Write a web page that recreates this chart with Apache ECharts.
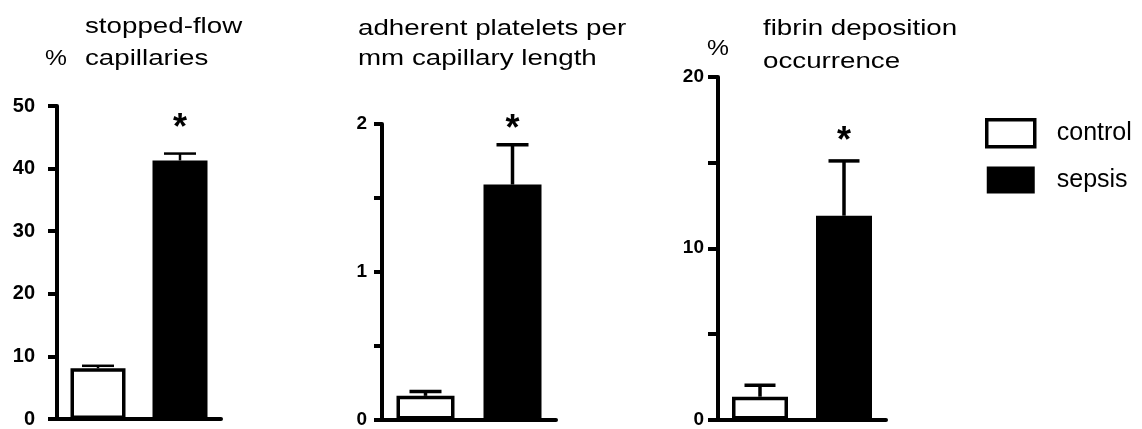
<!DOCTYPE html>
<html>
<head>
<meta charset="utf-8">
<script src="https://cdn.jsdelivr.net/npm/echarts@6/dist/echarts.min.js"></script>
<style>
html,body{margin:0;padding:0;background:#fff;}
#chart{width:1142px;height:429px;}
</style>
</head>
<body>
<div id="chart"></div>
<script>
// ---- data ----
const categories = ['control', 'sepsis'];
const flowMean = [8.1, 41.3];        // % stopped-flow capillaries
const flowErr = [0.4, 1.1];
const plateletMean = [0.16, 1.59];   // adherent platelets per mm
const plateletErr = [0.03, 0.27];
const fibrinMean = [1.33, 11.9];     // % fibrin deposition occurrence
const fibrinErr = [0.67, 3.2];
const sigMarkY = [46.3, 1.96, 16.2]; // where the * sits above the sepsis bar
const yMax = [50, 2, 20];
const yStep = [10, 0.5, 5];
const yLabelStep = [10, 1, 10];
const titleLines = [
  ['stopped-flow', 'capillaries'],
  ['adherent platelets per', 'mm capillary length'],
  ['fibrin deposition', 'occurrence']
];

const means = [flowMean, plateletMean, fibrinMean];
const errs = [flowErr, plateletErr, fibrinErr];

const FONT = "'Liberation Sans', Arial, sans-serif";
const layout = [
  {left: 57, top: 106, width: 164, height: 316, barW: 55, tick: 9, margin: 22, lab: 20, eb: 2.5, cap: 32},
  {left: 382, top: 124, width: 174, height: 299, barW: 58, tick: 8, margin: 15, lab: 19, eb: 3.5, cap: 32},
  {left: 718, top: 77, width: 168, height: 346, barW: 56, tick: 10, margin: 14, lab: 19, eb: 3.5, cap: 31}
];

const grid = [], xAxis = [], yAxis = [], series = [];
layout.forEach((L, i) => {
  grid.push({left: L.left, top: L.top, width: L.width, height: L.height});
  xAxis.push({
    type: 'category', gridIndex: i, data: categories,
    axisLine: {lineStyle: {color: '#000', width: 4}},
    axisTick: {show: false}, axisLabel: {show: false}
  });
  yAxis.push({
    type: 'value', gridIndex: i, min: 0, max: yMax[i], interval: yStep[i],
    splitLine: {show: false},
    axisLine: {show: true, lineStyle: {color: '#000', width: 4}},
    axisTick: {show: true, length: L.tick, lineStyle: {color: '#000', width: 4}},
    axisLabel: {
      margin: L.margin, color: '#000', fontWeight: 'bold', fontSize: L.lab, fontFamily: FONT,
      formatter: v => (Math.abs(v / yLabelStep[i] - Math.round(v / yLabelStep[i])) < 1e-9 ? String(v) : '')
    }
  });
  const m = means[i], e = errs[i];
  series.push({
    name: 'control', type: 'bar', xAxisIndex: i, yAxisIndex: i,
    data: [m[0], '-'], barWidth: L.barW, barGap: '-100%',
    itemStyle: {color: '#fff', borderColor: '#000', borderWidth: 3.5}
  });
  series.push({
    name: 'sepsis', type: 'bar', xAxisIndex: i, yAxisIndex: i,
    data: ['-', m[1]], barWidth: L.barW, barGap: '-100%',
    itemStyle: {color: '#000', borderColor: '#000', borderWidth: 3}
  });
  series.push({
    type: 'custom', xAxisIndex: i, yAxisIndex: i, z: 5,
    data: categories.map((c, k) => [k, m[k], m[k] + e[k]]),
    renderItem: (params, api) => {
      const base = api.coord([api.value(0), api.value(1)]);
      const top = api.coord([api.value(0), api.value(2)]);
      const st = {stroke: '#000', lineWidth: L.eb};
      return {type: 'group', children: [
        {type: 'line', shape: {x1: base[0], y1: base[1], x2: top[0], y2: top[1]}, style: st},
        {type: 'line', shape: {x1: top[0] - L.cap / 2, y1: top[1], x2: top[0] + L.cap / 2, y2: top[1]}, style: st}
      ]};
    }
  });
  series.push({
    type: 'custom', xAxisIndex: i, yAxisIndex: i, z: 6, silent: true,
    data: [[1, sigMarkY[i]]],
    renderItem: (params, api) => {
      const p = api.coord([api.value(0), api.value(1)]);
      return {type: 'text', x: p[0], y: p[1],
        style: {text: '*', font: 'bold 36px ' + FONT, fill: '#000', align: 'center', verticalAlign: 'middle'}};
    }
  });
});

// titles & unit marks
const TS = 1.26;
const graphic = [];
const titlePos = [
  {x: 85, y: [27, 59]},
  {x: 358, y: [29, 58.5]},
  {x: 763, y: [29, 62]}
];
titlePos.forEach((p, i) => {
  titleLines[i].forEach((t, k) => {
    graphic.push({type: 'text', x: p.x, y: p.y[k], scaleX: TS,
      style: {text: t, font: '22px ' + FONT, fill: '#000', verticalAlign: 'middle', align: 'left'}});
  });
});
graphic.push({type: 'text', x: 45, y: 59, scaleX: 1.12,
  style: {text: '%', font: '22px ' + FONT, fill: '#000', verticalAlign: 'middle', align: 'left'}});
graphic.push({type: 'text', x: 707, y: 49, scaleX: 1.12,
  style: {text: '%', font: '22px ' + FONT, fill: '#000', verticalAlign: 'middle', align: 'left'}});

const chart = echarts.init(document.getElementById('chart'), null, {renderer: 'canvas'});
chart.setOption({
  animation: false,
  backgroundColor: '#fff',
  grid, xAxis, yAxis, series, graphic,
  legend: {
    orient: 'vertical', left: 985, top: 118, padding: 0, itemWidth: 48, itemHeight: 27, itemGap: 18,
    icon: 'rect', selectedMode: false,
    textStyle: {fontSize: 25, fontFamily: FONT, color: '#000', padding: [0, 0, 0, 17]},
    data: [
      {name: 'control', itemStyle: {color: '#fff', borderColor: '#000', borderWidth: 3.5}},
      {name: 'sepsis', itemStyle: {color: '#000', borderColor: '#000', borderWidth: 0}}
    ]
  }
});
</script>
</body>
</html>
